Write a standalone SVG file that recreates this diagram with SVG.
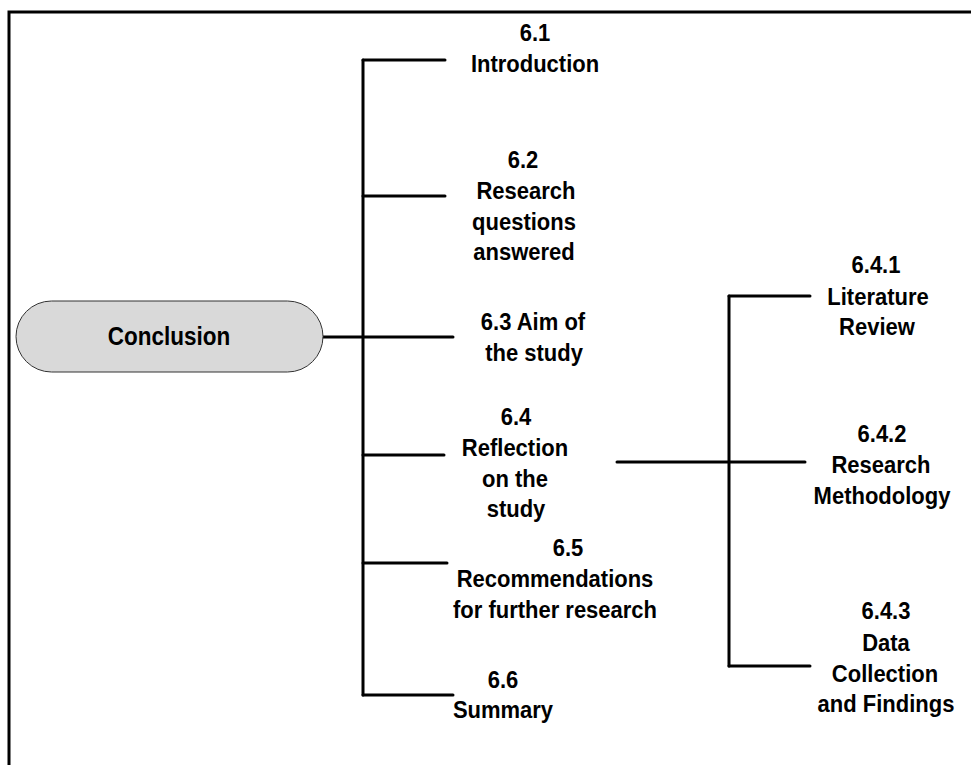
<svg xmlns="http://www.w3.org/2000/svg" width="971" height="765" viewBox="0 0 971 765">
  <style>
    .frame { fill: none; stroke: #000; stroke-width: 3; }
    .wire { fill: none; stroke: #000; stroke-width: 3; stroke-linecap: round; stroke-linejoin: round; }
    .pill { fill: #d9d9d9; stroke: #333; stroke-width: 1; }
    text { font-family: "Liberation Sans", Arial, sans-serif; font-weight: bold; font-size: 22px; fill: #000; text-anchor: middle; }
    .root { font-size: 22.5px; }
  </style>

  <rect width="971" height="765" fill="#fff"/>
  <!-- page frame: left and top edges only -->
  <path class="frame" d="M9,765 V12 H971"/>

  <g id="connectors">
    <!-- root to main trunk -->
    <path class="wire" d="M323,337 H453"/>
    <!-- main trunk -->
    <path class="wire" d="M363,60 V695"/>
    <path class="wire" d="M363,60 H445"/>
    <path class="wire" d="M363,196 H445"/>
    <path class="wire" d="M363,455 H444"/>
    <path class="wire" d="M363,563 H447"/>
    <path class="wire" d="M363,695 H453"/>
    <!-- 6.4 sub-tree -->
    <path class="wire" d="M617,462 H805"/>
    <path class="wire" d="M729,296 V666"/>
    <path class="wire" d="M729,296 H810"/>
    <path class="wire" d="M729,666 H810"/>
  </g>

  <g id="conclusion">
    <rect class="pill" x="16" y="301" width="307" height="71" rx="35.5" ry="35.5"/>
    <text class="root" transform="translate(169,345) scale(1,1.18)">Conclusion</text>
  </g>

  <g id="n6-1">
    <text transform="translate(535,41) scale(1,1.12)">6.1</text>
    <text transform="translate(535,72) scale(1,1.12)">Introduction</text>
  </g>

  <g id="n6-2">
    <text transform="translate(523,168) scale(1,1.12)">6.2</text>
    <text transform="translate(526,199) scale(1,1.12)">Research</text>
    <text transform="translate(524,230) scale(1,1.12)">questions</text>
    <text transform="translate(524,260) scale(1,1.12)">answered</text>
  </g>

  <g id="n6-3">
    <text transform="translate(533,330) scale(1,1.12)">6.3 Aim of</text>
    <text transform="translate(534,361) scale(1,1.12)">the study</text>
  </g>

  <g id="n6-4">
    <text transform="translate(516,425) scale(1,1.12)">6.4</text>
    <text transform="translate(515,456) scale(1,1.12)">Reflection</text>
    <text transform="translate(515,487) scale(1,1.12)">on the</text>
    <text transform="translate(516,517) scale(1,1.12)">study</text>
  </g>

  <g id="n6-5">
    <text transform="translate(568,556) scale(1,1.12)">6.5</text>
    <text transform="translate(555,587) scale(1,1.12)">Recommendations</text>
    <text transform="translate(555,618) scale(1,1.12)">for further research</text>
  </g>

  <g id="n6-6">
    <text transform="translate(503,688) scale(1,1.12)">6.6</text>
    <text transform="translate(503,718) scale(1,1.12)">Summary</text>
  </g>

  <g id="n6-4-1">
    <text transform="translate(876,273) scale(1,1.12)">6.4.1</text>
    <text transform="translate(878,305) scale(1,1.12)">Literature</text>
    <text transform="translate(877,335) scale(1,1.12)">Review</text>
  </g>

  <g id="n6-4-2">
    <text transform="translate(882,442) scale(1,1.12)">6.4.2</text>
    <text transform="translate(881,473) scale(1,1.12)">Research</text>
    <text transform="translate(882,504) scale(1,1.12)">Methodology</text>
  </g>

  <g id="n6-4-3">
    <text transform="translate(886,619) scale(1,1.12)">6.4.3</text>
    <text transform="translate(886,651) scale(1,1.12)">Data</text>
    <text transform="translate(885,682) scale(1,1.12)">Collection</text>
    <text transform="translate(886,712) scale(1,1.12)">and Findings</text>
  </g>
</svg>
